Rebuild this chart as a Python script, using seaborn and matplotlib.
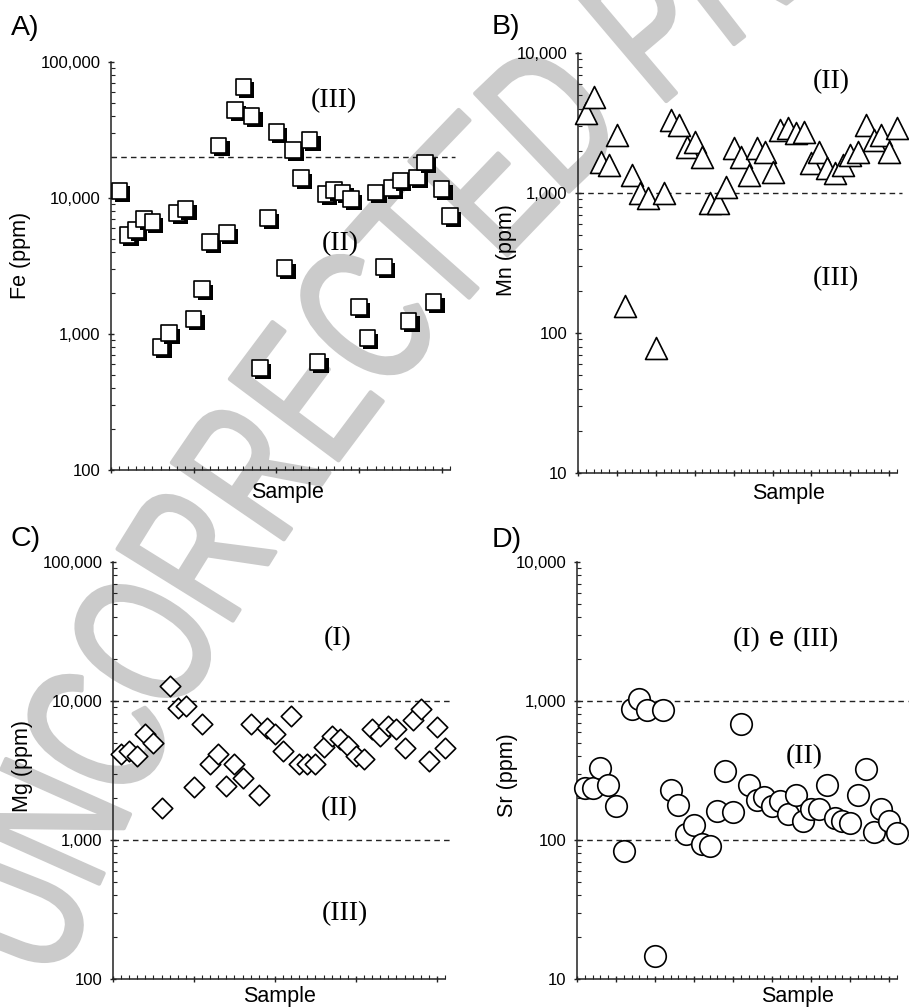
import numpy as np
import matplotlib
matplotlib.use("Agg")
import matplotlib.pyplot as plt
import matplotlib.patheffects as pe
from matplotlib.transforms import Affine2D
from matplotlib.ticker import LogLocator, MultipleLocator, FuncFormatter, NullFormatter
import seaborn as sns
import pandas as pd

# ---------------- data ----------------
samples = list(range(1, 42))

fe_ppm = [11300, 5350, 5820, 7000, 6660, 800, 1015, 7760, 8300, 1290,
          2140, 4750, 24400, 5530, 44400, 65700, 40100, 560, 7130, 30500,
          3050, 22500, 14000, 26700, 622, 10700, 11400, 11000, 9800, 1580,
          935, 11000, 3100, 11800, 13500, 1250, 14200, 18300, 1720, 11600, 7370]

mn_ppm = [3720, 4850, 1670, 1585, 2600, 156, 1350, 1000, 920, 78,
          1000, 3310, 3060, 2130, 2300, 1810, 850, 850, 1100, 2100,
          1810, 1350, 2100, 1950, 1410, 2820, 2900, 2690, 2740, 1630,
          1950, 1510, 1390, 1585, 1870, 1950, 3060, 2400, 2590, 1950, 2900]

mg_ppm = [4170, 4390, 4040, 5800, 5000, 1710, 12800, 8910, 9200, 2420,
          6840, 3530, 4170, 2460, 3530, 2800, 6840, 2120, 6400, 5800,
          4390, 7800, 3530, 3530, 3530, 4680, 5610, 5340, 4750, 4040,
          3840, 6300, 5610, 6620, 6300, 4600, 7310, 8770, 3720, 6510, 4600]

sr_ppm = [238, 238, 331, 250, 177, 83, 877, 1030, 862, 14.6,
          862, 230, 180, 110, 129, 94, 90, 163, 315, 160,
          684, 250, 195, 205, 177, 192, 155, 212, 136, 166,
          168, 250, 145, 136, 133, 212, 326, 115, 166, 136, 113]

fe_limits = [20000]
mn_limits = [1000]
mg_limits = [10000, 1000]
sr_limits = [1000, 100]

# ---------------- figure ----------------
plt.rcParams["font.family"] = ["Liberation Sans", "DejaVu Sans"]
W, H = 909, 1007
fig = plt.figure(figsize=(W / 100, H / 100), dpi=100)
fig.patch.set_facecolor("white")


def box(l, r, t, b):
    return [l / W, (H - b) / H, (r - l) / W, (b - t) / H]


# ---------------- watermark (real text placed along an arc) ----------------
WM_COLOR = "#cbcbcb"


class Stretch(pe.AbstractPathEffect):
    """Stretch a glyph perpendicular to its baseline and give it an outline."""

    def __init__(self, cx, cy, ang, sy, lw, color):
        super().__init__()
        self._t = (Affine2D().translate(-cx, -cy).rotate(-ang)
                   .scale(1.0, sy).rotate(ang).translate(cx, cy))
        self._lw = lw
        self._color = color

    def draw_path(self, renderer, gc, tpath, affine, rgbFace=None):
        gc0 = renderer.new_gc()
        gc0.copy_properties(gc)
        gc0.set_linewidth(self._lw)
        gc0.set_foreground(self._color)
        gc0.set_joinstyle("round")
        renderer.draw_path(gc0, tpath, affine + self._t, rgbFace)
        gc0.restore()


wm = "UNCORRECTED PROOF"
adv = {"U": .722, "N": .722, "C": .722, "O": .778, "R": .722, "E": .667,
       "T": .611, "D": .722, "P": .667, "F": .611, " ": .278}
cx, cy, Rr = 2092.0, -724.0, 2216.0
em = 136.0
th0 = np.deg2rad(158.5)
s = 0.0
for i, ch in enumerate(wm):
    w = adv[ch] * em
    if i == 0:
        sc = 0.0
        s = w / 2
    else:
        sc = s + w / 2
        s += w
    th = th0 - sc / Rr
    px = cx + Rr * np.cos(th)
    py = cy + Rr * np.sin(th)
    if ch != " ":
        ang = th - np.pi / 2
        fig.text(px / W, py / H, ch, fontsize=em * 0.72, color=WM_COLOR,
                 rotation=np.rad2deg(ang), rotation_mode="anchor",
                 ha="center", va="center", zorder=-5,
                 family=["Liberation Sans", "DejaVu Sans"],
                 path_effects=[Stretch(px, py, ang, 1.45, 3.0, WM_COLOR)])


class ShadowThenMarker(pe.AbstractPathEffect):
    """Draw a black drop shadow and then the marker itself, per marker."""

    def __init__(self, offset=(2.4, -2.4)):
        super().__init__()
        self._shadow = pe.SimplePatchShadow(offset=offset, shadow_rgbFace="black", alpha=1.0)

    def draw_path(self, renderer, gc, tpath, affine, rgbFace=None):
        self._shadow.draw_path(renderer, gc, tpath, affine, rgbFace)
        renderer.draw_path(gc, tpath, affine, rgbFace)


def setup(ax, ylim, xmajor):
    ax.set_facecolor("none")
    ax.set_yscale("log")
    ax.set_ylim(*ylim)
    ax.set_xlim(0, 41)
    for sp in ["top", "right"]:
        ax.spines[sp].set_visible(False)
    for sp in ["left", "bottom"]:
        ax.spines[sp].set_linewidth(1.1)
        ax.spines[sp].set_color("#222222")
    ax.xaxis.set_major_locator(MultipleLocator(xmajor))
    ax.xaxis.set_minor_locator(MultipleLocator(1))
    ax.xaxis.set_major_formatter(NullFormatter())
    ax.yaxis.set_major_locator(LogLocator(base=10, numticks=10))
    ax.yaxis.set_minor_locator(LogLocator(base=10, subs=np.arange(2, 10), numticks=10))
    ax.yaxis.set_minor_formatter(NullFormatter())
    ax.yaxis.set_major_formatter(FuncFormatter(lambda v, p: f"{int(round(v)):,}"))
    ax.tick_params(axis="both", which="major", direction="inout", length=5,
                   width=1, pad=5, labelsize=12, color="#222222")
    ax.tick_params(axis="both", which="minor", direction="in", length=3,
                   width=0.8, color="#222222")


def limits(ax, vals, xmax):
    for v in vals:
        ax.axhline(v, xmin=0, xmax=xmax, color="#222222", lw=1.0,
                   ls=(0, (4, 3)), clip_on=False, zorder=1)


def labels(ax, ylab, ylx, yly, sx, sy):
    ax.set_xlabel("Sample", fontsize=15.5)
    ax.xaxis.set_label_coords(sx, sy)
    ax.set_ylabel(ylab, fontsize=15.5)
    ax.yaxis.set_label_coords(ylx, yly)
    ax.yaxis.label.set_va("center")


serif = ["Liberation Serif", "DejaVu Serif"]

# ---------------- A) Fe ----------------
axA = fig.add_axes(box(111, 450, 62, 470))
setup(axA, (100, 100000), 10)
limits(axA, fe_limits, 1.015)
dfA = pd.DataFrame({"Sample": samples, "Fe": fe_ppm})
sns.scatterplot(data=dfA, x="Sample", y="Fe", ax=axA, marker="s", s=125,
                color="white", edgecolor="black", linewidth=1.2,
                path_effects=[ShadowThenMarker()], clip_on=False, zorder=3,
                legend=False)
labels(axA, "Fe (ppm)", -0.267, 0.525, 0.52, -0.03)
axA.text(27, 52000, "(III)", fontsize=20, family=serif, ha="center", va="center")
axA.text(27.7, 4600, "(II)", fontsize=20, family=serif, ha="center", va="center")

# ---------------- B) Mn ----------------
axB = fig.add_axes(box(578, 897, 53, 473))
setup(axB, (10, 10000), 5)
limits(axB, mn_limits, 1.016)
dfB = pd.DataFrame({"Sample": samples, "Mn": mn_ppm})
sns.scatterplot(data=dfB, x="Sample", y="Mn", ax=axB, marker="^", s=250,
                color="white", edgecolor="black", linewidth=1.2,
                clip_on=False, zorder=3, legend=False)
labels(axB, "Mn (ppm)", -0.223, 0.53, 0.66, -0.025)
axB.text(32.6, 6200, "(II)", fontsize=20, family=serif, ha="center", va="center")
axB.text(33.2, 243, "(III)", fontsize=20, family=serif, ha="center", va="center")

# ---------------- C) Mg ----------------
axC = fig.add_axes(box(113, 445, 562, 979))
setup(axC, (100, 100000), 10)
limits(axC, mg_limits, 1.024)
dfC = pd.DataFrame({"Sample": samples, "Mg": mg_ppm})
sns.scatterplot(data=dfC, x="Sample", y="Mg", ax=axC, marker="D", s=109,
                color="white", edgecolor="black", linewidth=1.2,
                clip_on=False, zorder=3, legend=False)
labels(axC, "Mg (ppm)", -0.274, 0.51, 0.5, -0.017)
axC.text(27.7, 28300, "(I)", fontsize=20, family=serif, ha="center", va="center")
axC.text(28.0, 1680, "(II)", fontsize=20, family=serif, ha="center", va="center")
axC.text(28.6, 297, "(III)", fontsize=20, family=serif, ha="center", va="center")

# ---------------- D) Sr ----------------
axD = fig.add_axes(box(577, 897, 562, 979))
setup(axD, (10, 10000), 5)
limits(axD, sr_limits, 1.034)
dfD = pd.DataFrame({"Sample": samples, "Sr": sr_ppm})
sns.scatterplot(data=dfD, x="Sample", y="Sr", ax=axD, marker="o", s=240,
                color="white", edgecolor="black", linewidth=1.2,
                clip_on=False, zorder=3, legend=False)
labels(axD, "Sr (ppm)", -0.216, 0.49, 0.69, -0.017)
axD.text(23.5, 2780, "(I)", fontsize=20, family=serif, ha="right", va="center")
axD.text(25.6, 2780, "e", fontsize=20, ha="center", va="center")
axD.text(27.7, 2780, "(III)", fontsize=20, family=serif, ha="left", va="center")
axD.text(29.1, 397, "(II)", fontsize=20, family=serif, ha="center", va="center")

# ---------------- panel letters ----------------
for lab, x0, yb in [("A)", 11, 35), ("B)", 492, 34), ("C)", 10, 546), ("D)", 492, 547)]:
    fig.text(x0 / W, 1 - yb / H, lab, fontsize=20.5, ha="left", va="baseline")

fig.savefig("out.png", dpi=100, facecolor="white")
